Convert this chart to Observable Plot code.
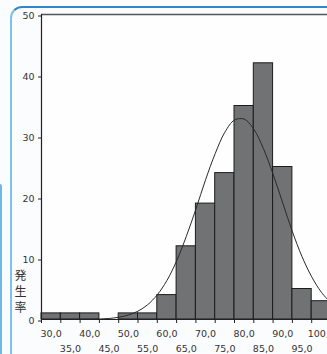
<!DOCTYPE html>
<html>
<head>
<meta charset="utf-8">
<script src="https://cdn.jsdelivr.net/npm/d3@7"></script>
<script src="https://cdn.jsdelivr.net/npm/@observablehq/plot@0.6"></script>
<style>
  html, body { margin: 0; padding: 0; width: 327px; height: 354px; overflow: hidden; background: #fbfcfe; }
  #wrap { position: relative; width: 327px; height: 354px; overflow: hidden; }
  #chart { position: absolute; left: 0; top: 0; width: 340px; height: 354px; }
  #chart svg { max-width: none !important; width: 340px; height: 354px; }
  #frame { position: absolute; left: 10px; top: 6px; width: 400px; height: 400px;
           border-left: 2px solid #7cc3ea; border-top: 2px solid #2f86c8; border-top-left-radius: 12px; }
  #side { position: absolute; left: 0; top: 184px; width: 2px; height: 200px; background: #6cb9e4; border-top-right-radius: 2px; }
</style>
</head>
<body>
<div id="wrap">
  <div id="frame"></div>
  <div id="side"></div>
  <div id="chart"></div>
</div>
<script>
const binCenters = [30, 35, 40, 45, 50, 55, 60, 65, 70, 75, 80, 85, 90, 95, 100];
const counts     = [1, 1, 1, 0, 1, 1, 4, 12, 19, 24, 35, 42, 25, 5, 3];
const binWidth = 5;
const curveX = [27.5, 30, 32.5, 35, 37.5, 40, 42.5, 45, 47.5, 50, 52.5, 55, 57.5, 60, 62.5, 65, 67.5, 70, 72.5, 75, 77.5, 80, 82.5, 85, 87.5, 90, 92.5, 95, 97.5, 100, 102.5];
const curveY = [0, 0, 0, 0.01, 0.01, 0.03, 0.08, 0.17, 0.37, 0.73, 1.37, 2.42, 4.06, 6.4, 9.6, 13.6, 18.1, 22.9, 27.2, 30.7, 32.7, 32.85, 31.2, 28.0, 23.8, 19.1, 14.4, 10.3, 7.0, 4.47, 2.7];
const yTicks = [0, 10, 20, 30, 40, 50];
const xLabelsRow1 = [30, 40, 50, 60, 70, 80, 90, 100];
const xLabelsRow2 = [35, 45, 55, 65, 75, 85, 95];
const yLabel = "発生率";

const bins = binCenters.map((c, i) => ({ x1: c - binWidth / 2, x2: c + binWidth / 2, count: counts[i] }));
const binEdges = [binCenters[0] - binWidth / 2, ...binCenters.map(c => c + binWidth / 2)];
const curve = curveX.map((x, i) => ({ x, y: curveY[i] }));
const fmt = d => d.toFixed(1).replace(".", ",");

const chart = Plot.plot({
  width: 340,
  height: 354,
  marginLeft: 41,
  marginRight: 9.5,
  marginTop: 14,
  marginBottom: 35,
  style: { fontFamily: "DejaVu Sans, sans-serif", fontSize: "9.5px", color: "#333", background: "transparent", overflow: "visible", maxWidth: "none" },
  x: { type: "linear", domain: [binEdges[0], binEdges[binEdges.length - 1]] },
  y: { domain: [0, 50] },
  marks: [
    Plot.frame({ fill: "#fffefe", stroke: "none" }),
    Plot.rectY(bins, { x1: "x1", x2: "x2", y: "count", fill: "#717273", stroke: "#1c1c1c", strokeWidth: 1 }),
    Plot.line(curve, { x: "x", y: "y", stroke: "#2a2a2a", strokeWidth: 1, curve: "catmull-rom" }),
    Plot.ruleY([50], { stroke: "#555", strokeWidth: 1.5 }),
    Plot.ruleY([0], { stroke: "#222", strokeWidth: 1 }),
    Plot.ruleX([binEdges[0]], { stroke: "#222", strokeWidth: 1.2 }),
    Plot.axisY({ ticks: yTicks, tickSize: 3, tickPadding: 4, dy: 1.5, stroke: "#222", fill: "#333", label: null }),
    Plot.axisX({ ticks: binEdges, tickSize: 4, tickFormat: () => "", stroke: "#222", label: null }),
    Plot.axisX({ ticks: xLabelsRow1, tickSize: 0, tickPadding: 11, tickFormat: fmt, fill: "#333", label: null }),
    Plot.axisX({ ticks: xLabelsRow2, tickSize: 0, tickPadding: 25.8, tickFormat: fmt, fill: "#333", label: null }),
    Plot.text([yLabel.split("").join("\n")], {
      frameAnchor: "bottom-left", dx: -21, dy: -8, textAnchor: "middle", lineAnchor: "bottom",
      fontFamily: "Noto Sans CJK JP", fontSize: 12, lineHeight: 1.33, fill: "#333"
    })
  ]
});
document.getElementById("chart").appendChild(chart);
</script>
</body>
</html>
